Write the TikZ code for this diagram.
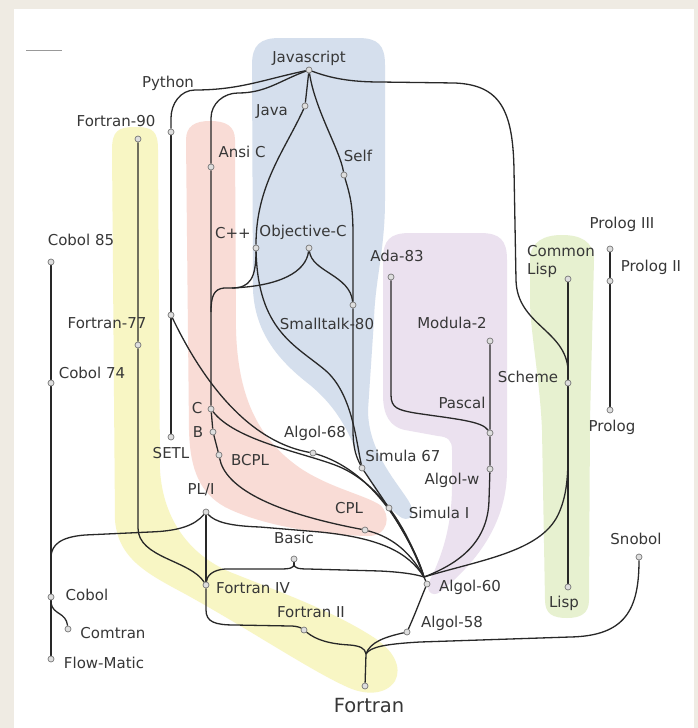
\documentclass[tikz,border=0pt]{standalone}
\usepackage{fontspec}
\setmainfont{DejaVu Sans}
\pgfdeclarelayer{bg}
\pgfdeclarelayer{fg}
\pgfsetlayers{bg,main,fg}
\definecolor{beige}{RGB}{239,235,227}
\definecolor{yelb}{RGB}{248,246,196}
\definecolor{pinkb}{RGB}{249,220,214}
\definecolor{blueb}{RGB}{213,223,237}
\definecolor{purpb}{RGB}{235,225,239}
\definecolor{greenb}{RGB}{231,241,208}
\definecolor{linec}{RGB}{40,40,40}
\definecolor{txt}{RGB}{55,55,55}
\definecolor{dotfill}{RGB}{222,222,222}
\definecolor{dotline}{RGB}{120,120,120}
\begin{document}
\begin{tikzpicture}[x=1pt,y=-1pt,
  dot/.style={circle,fill=dotfill,draw=dotline,line width=0.7pt,inner sep=0pt,minimum size=6pt},
  lbl/.style={font=\fontsize{15}{18}\selectfont,text=txt,inner sep=0pt},
  biglbl/.style={font=\fontsize{19.5}{22}\selectfont,text=txt,inner sep=0pt},
  edge/.style={draw=linec,line width=1.3pt}]
\useasboundingbox (0,0) rectangle (698,728);
\begin{pgfonlayer}{bg}
\fill[beige] (0,0) rectangle (698,728);
\fill[white] (14,9) rectangle (694,728);
\draw[black!40,line width=1pt] (26,50) -- (62,50);
% yellow (Fortran)
\fill[yelb] (112,150) .. controls (112,131) and (118,127) .. (135,127) .. controls (153,127) and (158,131) .. (158,150)
  -- (160,470) .. controls (163,520) and (190,555) .. (230,572) .. controls (280,592) and (330,610) .. (370,635)
  .. controls (395,650) and (402,668) .. (395,681) .. controls (386,695) and (365,696) .. (345,686)
  .. controls (310,670) and (250,630) .. (187,595) .. controls (150,575) and (118,560) .. (115,520) -- cycle;
% pink (C)
\fill[pinkb] (186,140) .. controls (186,126) and (195,121) .. (210,121) .. controls (226,121) and (235,126) .. (235,140)
  -- (236,330) .. controls (238,400) and (260,440) .. (300,468) .. controls (330,488) and (365,495) .. (380,505)
  .. controls (392,515) and (388,537) .. (367,536) .. controls (320,535) and (260,525) .. (225,507)
  .. controls (200,493) and (190,470) .. (189,430) -- cycle;
% blue (OO)
\fill[blueb] (252,65) .. controls (252,45) and (260,38) .. (280,38) -- (358,38) .. controls (378,38) and (385,45) .. (385,65)
  -- (385,200) .. controls (385,250) and (375,280) .. (374,320) -- (368,410)
  .. controls (368,450) and (395,480) .. (408,500) .. controls (416,512) and (412,522) .. (402,518)
  .. controls (390,510) and (375,495) .. (362,465) .. controls (350,435) and (340,410) .. (310,385)
  .. controls (275,358) and (255,330) .. (253,290) -- cycle;
% purple (Pascal)
\fill[purpb] (383,260) .. controls (383,240) and (390,233) .. (410,233) -- (480,233) .. controls (500,233) and (507,240) .. (507,260)
  -- (507,470) .. controls (507,520) and (480,560) .. (440,592) .. controls (432,598) and (424,590) .. (430,580)
  .. controls (445,550) and (452,520) .. (452,485) -- (452,450) .. controls (452,440) and (448,437) .. (438,436)
  -- (405,430) .. controls (390,427) and (383,415) .. (383,395) -- cycle;
% green (Lisp)
\fill[greenb] (530,260) .. controls (530,241) and (545,235) .. (562,235) .. controls (580,235) and (594,241) .. (594,260)
  -- (590,420) -- (589,600) .. controls (589,614) and (580,618) .. (567,618) .. controls (553,618) and (545,614) .. (545,600)
  -- (542,430) .. controls (540,380) and (530,330) .. (530,300) -- cycle;
\end{pgfonlayer}

\begin{pgfonlayer}{fg}
\node[dot] (js) at (309,70) {};
\node[dot] (java) at (305,106) {};
\node[dot] (self) at (344,175) {};
\node[dot] (py) at (171,132) {};
\node[dot] (ansic) at (211,167) {};
\node[dot] (f90) at (138,139) {};
\node[dot] (cpp) at (256,248) {};
\node[dot] (objc) at (309,248) {};
\node[dot] (st80) at (353,305) {};
\node[dot] (ada) at (391,277) {};
\node[dot] (mod2) at (490,341) {};
\node[dot] (clisp) at (568,279) {};
\node[dot] (pro3) at (610,249) {};
\node[dot] (pro2) at (610,281) {};
\node[dot] (pro) at (610,410) {};
\node[dot] (scheme) at (568,383) {};
\node[dot] (pascal) at (490,433) {};
\node[dot] (algw) at (490,469) {};
\node[dot] (sim67) at (362,468) {};
\node[dot] (sim1) at (389,508) {};
\node[dot] (alg68) at (313,453) {};
\node[dot] (cpl) at (365,530) {};
\node[dot] (bcpl) at (219,455) {};
\node[dot] (b) at (213,432) {};
\node[dot] (c) at (211,409) {};
\node[dot] (setl) at (171,437) {};
\node[dot] (abc) at (171,315) {};
\node[dot] (cob85) at (51,262) {};
\node[dot] (cob74) at (51,383) {};
\node[dot] (f77) at (138,345) {};
\node[dot] (pl1) at (206,512) {};
\node[dot] (basic) at (294,559) {};
\node[dot] (fiv) at (206,585) {};
\node[dot] (fii) at (304,630) {};
\node[dot] (alg58) at (407,632) {};
\node[dot] (alg60) at (427,584) {};
\node[dot] (lisp) at (568,587) {};
\node[dot] (snobol) at (639,557) {};
\node[dot] (fortran) at (365,686) {};
\node[dot] (cobol) at (51,597) {};
\node[dot] (comtran) at (68,629) {};
\node[dot] (flow) at (51,659) {};
\end{pgfonlayer}

\coordinate (hub) at (424,577);
\coordinate (j1) at (232,288);
\coordinate (m1) at (211,312);
\coordinate (m2) at (568,455);
\coordinate (m3) at (51,556);
\coordinate (m4) at (51,603);
\coordinate (bj) at (294,564);
\coordinate (jf) at (366,654);

% edges
\draw[edge] (py) -- (171,118) to[out=90,in=180] (195,90) to[out=0,in=192] (js);
\draw[edge] (ansic) -- (211,118) to[out=90,in=180] (238,93) to[out=0,in=200] (js);
\draw[edge] (js) -- (java);
\draw[edge] (java) .. controls (285,150) and (256,185) .. (cpp);
\draw[edge] (js) .. controls (315,110) and (340,150) .. (self);
\draw[edge] (self) .. controls (350,195) and (353,205) .. (353,235) -- (st80);
\draw[edge] (cpp) .. controls (256,278) and (250,288) .. (j1);
\draw[edge] (objc) .. controls (306,272) and (280,286) .. (j1);
\draw[edge] (j1) -- (224,288) .. controls (214,289) and (211,296) .. (m1);
\draw[edge] (objc) .. controls (312,272) and (350,275) .. (st80);
\draw[edge] (cpp) .. controls (258,330) and (295,345) .. (325,370) .. controls (352,393) and (356,440) .. (sim67);
\draw[edge] (st80) -- (353,430) .. controls (353,450) and (357,458) .. (sim67);
\draw[edge] (sim67) -- (sim1);
\draw[edge] (sim1) .. controls (405,535) and (418,555) .. (hub);
\draw[edge] (ada) -- (391,395) .. controls (391,408) and (398,410) .. (415,413) .. controls (455,419) and (482,421) .. (pascal);
\draw[edge] (mod2) -- (pascal) -- (algw) -- (489,500) .. controls (488,545) and (455,565) .. (hub);
\draw[edge] (js) .. controls (330,78) and (350,82) .. (380,82) -- (455,83) .. controls (500,85) and (513,110) .. (514,170) -- (516,280) .. controls (517,325) and (566,330) .. (568,370) -- (scheme);
\draw[edge] (clisp) -- (scheme) -- (lisp);
\draw[edge] (hub) .. controls (480,560) and (540,552) .. (558,515) .. controls (566,498) and (568,480) .. (m2);
\draw[edge] (pro3) -- (pro2) -- (pro);
\draw[edge] (ansic) -- (m1) -- (c) -- (b) -- (bcpl) .. controls (225,487) and (270,512) .. (cpl) .. controls (395,538) and (412,555) .. (hub);
\draw[edge] (py) -- (abc) -- (setl);
\draw[edge] (abc) .. controls (195,365) and (240,440) .. (alg68);
\draw[edge] (alg68) .. controls (370,470) and (405,525) .. (hub);
\draw[edge] (c) .. controls (235,440) and (300,452) .. (335,465) .. controls (380,482) and (408,530) .. (hub);
\draw[edge] (pl1) .. controls (215,522) and (230,526) .. (260,527) -- (320,532) .. controls (380,538) and (408,552) .. (hub);
\draw[edge] (basic) -- (bj);
\draw[edge] (bj) .. controls (294,568) and (290,569) .. (280,569) -- (225,569) .. controls (212,570) and (207,576) .. (fiv);
\draw[edge] (bj) .. controls (294,568) and (298,569) .. (308,569) -- (380,571) .. controls (400,572) and (415,574) .. (hub);
\draw[edge] (f90) -- (f77) -- (138,528) .. controls (138,558) and (190,560) .. (fiv);
\draw[edge] (pl1) -- (fiv);
\draw[edge] (pl1) .. controls (195,525) and (180,531) .. (150,532) -- (85,535) .. controls (60,537) and (52,545) .. (m3);
\draw[edge] (fiv) -- (206,610) .. controls (206,622) and (215,625) .. (235,625) -- (290,626) .. controls (298,626) and (301,628) .. (fii);
\draw[edge] (fii) .. controls (316,640) and (330,644) .. (350,645) .. controls (360,646) and (365,648) .. (jf);
\draw[edge] (jf) -- (fortran);
\draw[edge] (alg58) .. controls (385,637) and (370,642) .. (jf);
\draw[edge] (snobol) .. controls (639,610) and (625,636) .. (570,637) -- (420,642) .. controls (385,644) and (370,647) .. (jf);
\draw[edge] (alg58) .. controls (416,612) and (421,598) .. (alg60);
\draw[edge] (hub) -- (alg60);
\draw[edge] (cob85) -- (cob74) -- (cobol) -- (flow);
\draw[edge] (m4) .. controls (53,615) and (66,612) .. (comtran);

% labels
\node[lbl] (t-js) at (309,58) {Javascript};
\node[lbl] (t-py) at (168,83) {Python};
\node[lbl] (t-java) at (272,112) {Java};
\node[lbl] (t-f90) at (116,121) {Fortran-90};
\node[lbl] (t-ansic) at (242,152) {Ansi C};
\node[lbl] (t-self) at (358,156) {Self};
\node[lbl] (t-cpp) at (233,233) {C++};
\node[lbl] (t-objc) at (303,232) {Objective-C};
\node[lbl] (t-cob85) at (81,240) {Cobol 85};
\node[lbl] (t-ada) at (397,256) {Ada-83};
\node[lbl,align=left,anchor=west] (t-clisp) at (527,261) {Common\\Lisp};
\node[lbl] (t-pro3) at (622,224) {Prolog III};
\node[lbl] (t-pro2) at (651,267) {Prolog II};
\node[lbl] (t-pro) at (612,427) {Prolog};
\node[lbl] (t-f77) at (107,323) {Fortran-77};
\node[lbl] (t-st80) at (327,324) {Smalltalk-80};
\node[lbl] (t-mod2) at (452,323) {Modula-2};
\node[lbl] (t-cob74) at (92,373) {Cobol 74};
\node[lbl] (t-scheme) at (528,377) {Scheme};
\node[lbl] (t-pascal) at (462,403) {Pascal};
\node[lbl] (t-c) at (197,408) {C};
\node[lbl] (t-b) at (198,432) {B};
\node[lbl] (t-setl) at (171,453) {SETL};
\node[lbl] (t-bcpl) at (250,460) {BCPL};
\node[lbl] (t-alg68) at (315,433) {Algol-68};
\node[lbl] (t-sim67) at (403,456) {Simula 67};
\node[lbl] (t-algw) at (452,480) {Algol-w};
\node[lbl] (t-sim1) at (439,513) {Simula I};
\node[lbl] (t-cpl) at (349,508) {CPL};
\node[lbl] (t-pl1) at (201,490) {PL/I};
\node[lbl] (t-basic) at (294,538) {Basic};
\node[lbl] (t-fiv) at (253,588) {Fortran IV};
\node[lbl] (t-fii) at (311,612) {Fortran II};
\node[lbl] (t-alg60) at (470,587) {Algol-60};
\node[lbl] (t-alg58) at (452,623) {Algol-58};
\node[lbl] (t-lisp) at (564,603) {Lisp};
\node[lbl] (t-snobol) at (636,539) {Snobol};
\node[biglbl] (t-fortran) at (369,706) {Fortran};
\node[lbl] (t-cobol) at (87,595) {Cobol};
\node[lbl] (t-comtran) at (113,633) {Comtran};
\node[lbl] (t-flow) at (104,663) {Flow-Matic};
\end{tikzpicture}
\end{document}
